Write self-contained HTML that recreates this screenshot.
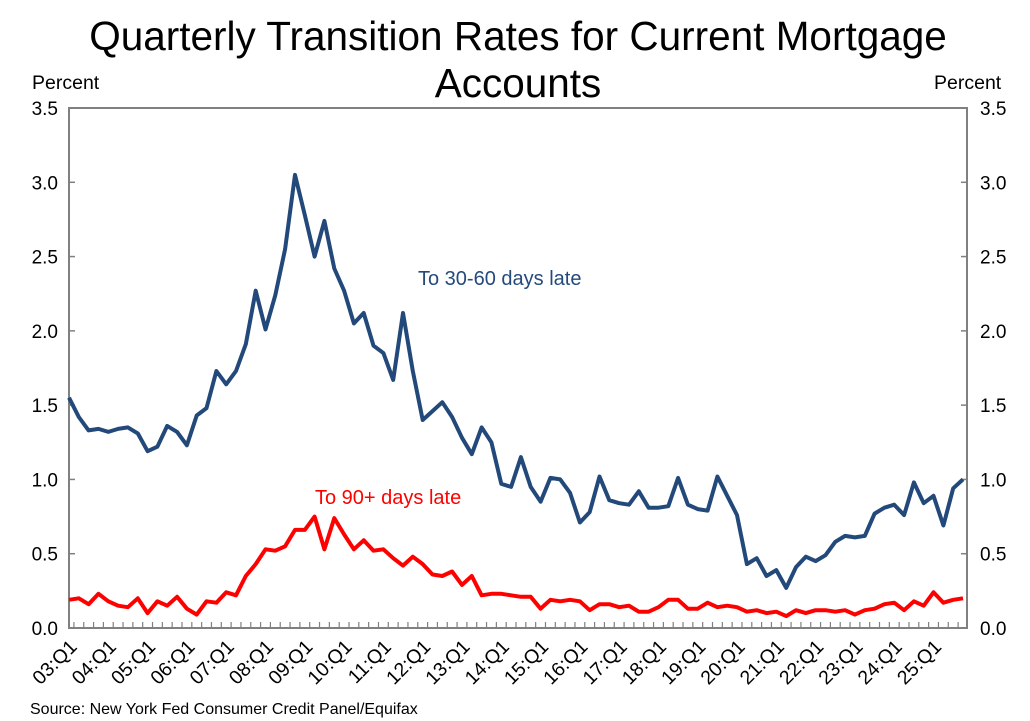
<!DOCTYPE html>
<html><head><meta charset="utf-8"><style>
body{margin:0;background:#fff;}
svg{display:block;font-family:"Liberation Sans",Arial,sans-serif;}
</style></head><body>
<svg id="c" width="1030" height="721" viewBox="0 0 1030 721" xmlns="http://www.w3.org/2000/svg">
<text x="518" y="50" font-size="40.5" text-anchor="middle" fill="#000">Quarterly Transition Rates for Current Mortgage</text>
<text x="518" y="97" font-size="40.5" text-anchor="middle" fill="#000">Accounts</text>
<text x="32" y="89" font-size="19.5" fill="#000">Percent</text>
<text x="934" y="89" font-size="19.5" fill="#000">Percent</text>
<rect x="69" y="108" width="898" height="520" fill="none" stroke="#808080" stroke-width="2"/>
<g id="g"></g>
<text x="418" y="285" font-size="20" fill="#244a7c">To 30-60 days late</text>
<text x="315" y="504" font-size="20" fill="#ff0000">To 90+ days late</text>
<text x="30" y="714" font-size="16" fill="#000">Source: New York Fed Consumer Credit Panel/Equifax</text>
</svg>
<script>
var blue=[1.55,1.42,1.33,1.34,1.32,1.34,1.35,1.31,1.19,1.22,1.36,1.32,1.23,1.43,1.48,1.73,1.64,1.73,1.91,2.27,2.01,2.24,2.55,3.05,2.78,2.50,2.74,2.42,2.27,2.05,2.12,1.90,1.85,1.67,2.12,1.73,1.40,1.46,1.52,1.42,1.28,1.17,1.35,1.25,0.97,0.95,1.15,0.95,0.85,1.01,1.00,0.91,0.71,0.78,1.02,0.86,0.84,0.83,0.92,0.81,0.81,0.82,1.01,0.83,0.80,0.79,1.02,0.89,0.76,0.43,0.47,0.35,0.39,0.27,0.41,0.48,0.45,0.49,0.58,0.62,0.61,0.62,0.77,0.81,0.83,0.76,0.98,0.84,0.89,0.69,0.94,1.00];
var red=[0.19,0.20,0.16,0.23,0.18,0.15,0.14,0.20,0.10,0.18,0.15,0.21,0.13,0.09,0.18,0.17,0.24,0.22,0.35,0.43,0.53,0.52,0.55,0.66,0.66,0.75,0.53,0.74,0.63,0.53,0.59,0.52,0.53,0.47,0.42,0.48,0.43,0.36,0.35,0.38,0.29,0.35,0.22,0.23,0.23,0.22,0.21,0.21,0.13,0.19,0.18,0.19,0.18,0.12,0.16,0.16,0.14,0.15,0.11,0.11,0.14,0.19,0.19,0.13,0.13,0.17,0.14,0.15,0.14,0.11,0.12,0.10,0.11,0.08,0.12,0.10,0.12,0.12,0.11,0.12,0.09,0.12,0.13,0.16,0.17,0.12,0.18,0.15,0.24,0.17,0.19,0.20];
var X=function(i){return 69+i*(894/91);},Y=function(v){return 628-v*148.57;};
var s='';
for(var k=0;k<=7;k++){var v=k*0.5,y=Y(v);
 s+='<line x1="69" y1="'+y+'" x2="75" y2="'+y+'" stroke="#808080" stroke-width="1.5"/>';
 s+='<line x1="961" y1="'+y+'" x2="967" y2="'+y+'" stroke="#808080" stroke-width="1.5"/>';
 s+='<text x="58" y="'+(y+7)+'" font-size="19" text-anchor="end">'+v.toFixed(1)+'</text>';
 s+='<text x="980" y="'+(y+7)+'" font-size="19">'+v.toFixed(1)+'</text>';}
for(var i=1;i<92;i++){var x=X(i)-4.9;s+='<line x1="'+x+'" y1="628" x2="'+x+'" y2="622" stroke="#808080" stroke-width="1.2"/>';}
for(var yr=3;yr<=25;yr++){var i=(yr-3)*4,x=X(i)+9,lab=(yr<10?'0':'')+yr+':Q1';
 s+='<text x="'+x+'" y="648" font-size="19.5" text-anchor="end" transform="rotate(-45 '+x+' 648)">'+lab+'</text>';}
function pl(d,c){return '<polyline fill="none" stroke="'+c+'" stroke-width="4" stroke-linejoin="round" points="'+d.map(function(v,i){return X(i).toFixed(1)+','+Y(v).toFixed(1);}).join(' ')+'"/>';}
s+=pl(red,'#ff0000')+pl(blue,'#23497b');
document.getElementById('g').innerHTML=s;
</script>
</body></html>
